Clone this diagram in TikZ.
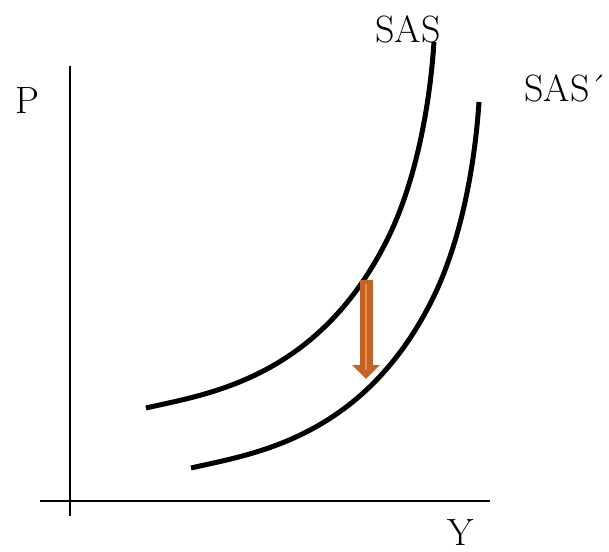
\documentclass[tikz,border=0pt]{standalone}
\usepackage{tikz}
\usetikzlibrary{arrows.meta}

\definecolor{shiftorange}{RGB}{192,100,42}
\definecolor{shiftlight}{RGB}{245,140,60}

\begin{document}
\begin{tikzpicture}[
  x=0.5pt, y=-0.5pt,
  axis/.style={line width=1pt},
  curve/.style={line width=2.5pt, line cap=butt},
  lbl/.style={anchor=base west, inner sep=0pt, font=\fontsize{19}{23}\selectfont},
  shiftarrow/.style={shiftorange, line width=6.5pt, -{Triangle[width=13.5pt, length=7pt]}}
]
\useasboundingbox (0,0) rectangle (609,551);
% axes
\coordinate (ytop) at (70,66);
\coordinate (ybot) at (70,516);
\coordinate (xleft) at (40,501);
\coordinate (xright) at (490,501);
\draw[axis] (ytop) -- (ybot);
\draw[axis] (xleft) -- (xright);
\node[lbl] (p) at (15,113) {P};
\node[lbl] (y) at (447,545) {Y};
% supply curves (SAS´ is SAS moved right and down)
\draw[curve] (146,408) .. controls (206,394) and (317,380) .. (387,240)
  .. controls (417,180) and (430,102) .. (434,42);
\begin{scope}[shift={(45,60)}]
\draw[curve] (146,408) .. controls (206,394) and (317,380) .. (387,240)
  .. controls (417,180) and (430,102) .. (434,42);
\end{scope}
\node[lbl] (sas) at (375,43) {SAS};
\node[lbl] (sas2) at (524,102) {SAS´};
% shift arrow
\coordinate (from) at (366,280);
\coordinate (to) at (366,379);
\draw[shiftarrow] (from) -- (to);
\draw[shiftlight, line width=1pt] (366,284) -- (366,370);
\end{tikzpicture}
\end{document}
